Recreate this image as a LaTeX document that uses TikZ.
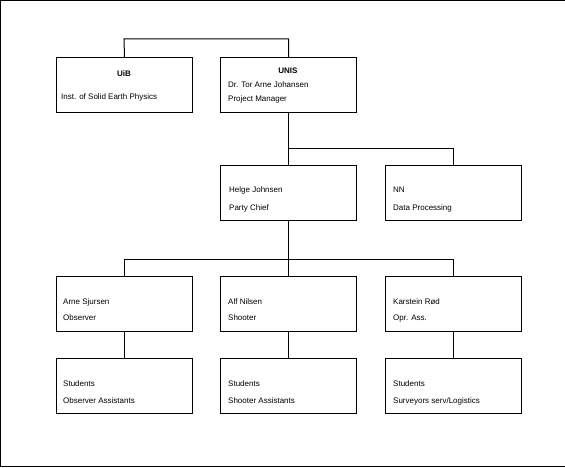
\documentclass[tikz,border=0pt]{standalone}
\usepackage{fontspec}
\setmainfont{Liberation Sans}
\begin{document}
\begin{tikzpicture}[x=1pt,y=-1pt,
  box/.style={draw,line width=1pt,rectangle,anchor=north west,inner sep=0pt,minimum width=136pt,minimum height=55pt},
  txt/.style={anchor=base west,inner sep=0pt,font=\fontsize{8}{9}\selectfont},
  ttl/.style={anchor=base,inner sep=0pt,font=\fontsize{8}{9}\selectfont\bfseries},
  conn/.style={line width=1pt,line cap=rect}]
\useasboundingbox (0,0) rectangle (565,468);
\draw[line width=1.2pt] (565,0.6) -- (0.6,0.6) -- (0.6,466.4) -- (565,466.4);
% boxes
\node[box] (uib) at (56,57) {};
\node[box] (unis) at (220,57) {};
\node[box] (helge) at (220,165) {};
\node[box] (nn) at (385,165) {};
\node[box] (arne) at (56,276) {};
\node[box] (alf) at (220,276) {};
\node[box] (karst) at (385,276) {};
\node[box] (st1) at (56,358) {};
\node[box] (st2) at (220,358) {};
\node[box] (st3) at (385,358) {};
% texts
\node[ttl] (t1) at (124,77) {UiB};
\node[txt] (t2) at (61,100) {Inst. of Solid Earth Physics};
\node[ttl] (t3) at (288,74) {UNIS};
\node[txt] (t4) at (228,88) {Dr. Tor Arne Johansen};
\node[txt] (t5) at (228,102) {Project Manager};
\node[txt] (t6) at (229,192) {Helge Johnsen};
\node[txt] (t7) at (229,210) {Party Chief};
\node[txt] (t8) at (393,192) {NN};
\node[txt] (t9) at (393,210) {Data Processing};
\node[txt] (t10) at (63,304) {Arne Sjursen};
\node[txt] (t11) at (63,320) {Observer};
\node[txt] (t12) at (228,304) {Alf Nilsen};
\node[txt] (t13) at (228,320) {Shooter};
\node[txt] (t14) at (393,304) {Karstein Rød};
\node[txt] (t15) at (393,320) {Opr. Ass.};
\node[txt] (t16) at (63,386) {Students};
\node[txt] (t17) at (63,403) {Observer Assistants};
\node[txt] (t18) at (228,386) {Students};
\node[txt] (t19) at (228,403) {Shooter Assistants};
\node[txt] (t20) at (393,386) {Students};
\node[txt] (t21) at (393,403) {Surveyors serv/Logistics};
% connectors
\coordinate (j0) at (124,39);
\coordinate (j1) at (288,149);
\coordinate (j2) at (288,259);
\draw[conn] (uib.north) -- (j0) -| (unis.north);
\draw[conn] (unis.south) -- (helge.north);
\draw[conn] (j1) -| (nn.north);
\draw[conn] (helge.south) -- (alf.north);
\draw[conn] (j2) -| (arne.north);
\draw[conn] (j2) -| (karst.north);
\draw[conn] (arne.south) -- (st1.north);
\draw[conn] (alf.south) -- (st2.north);
\draw[conn] (karst.south) -- (st3.north);
\end{tikzpicture}
\end{document}
